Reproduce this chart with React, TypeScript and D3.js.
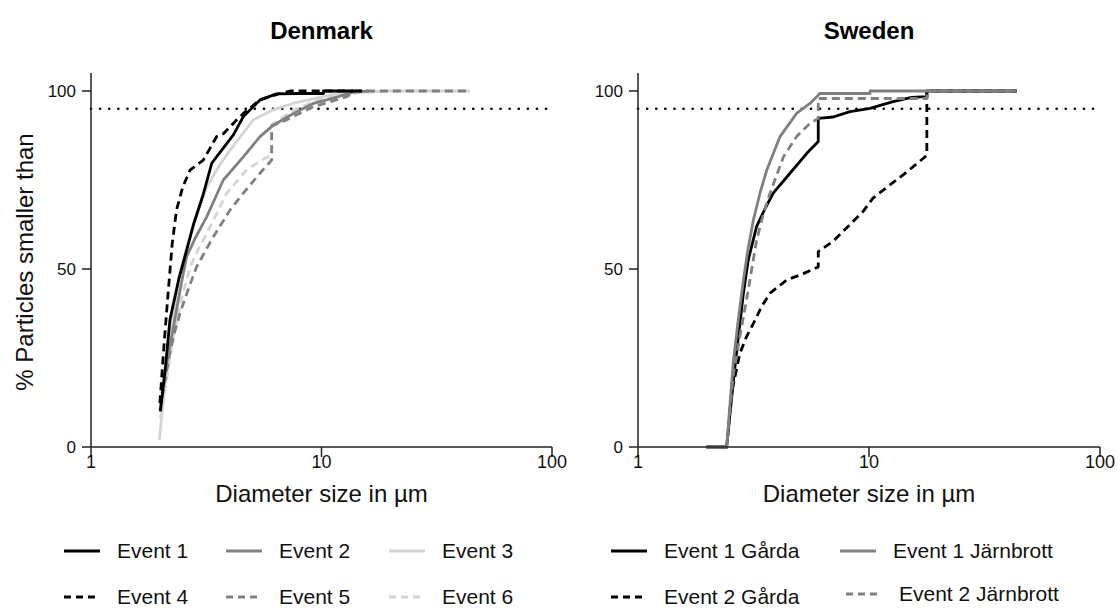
import React from "react";
import * as d3 from "d3";

// ---------- Data ----------
const yTicks = [0, 50, 100];
const xTicks = [1, 10, 100];
const threshold = 95;

// Denmark
const dkE1d = [2.0, 2.1, 2.2, 2.4, 2.6, 2.8, 3.07, 3.34, 3.69, 4.14, 4.58, 5.41, 6.39, 8.0, 10.2, 10.2, 15];
const dkE1p = [10, 22, 35.7, 47, 55.3, 63, 71, 79.7, 83.4, 87.6, 92.8, 97.5, 99.2, 99.3, 99.3, 100, 100];
const dkE2d = [2.03, 2.15, 2.28, 2.45, 2.6, 2.85, 3.18, 3.75, 4.58, 5.41, 6.18, 7.55, 9.22, 11.25, 13.7, 16];
const dkE2p = [15.1, 25, 33.8, 45, 53.5, 59, 64.7, 75, 81.5, 87.2, 90.4, 93.7, 96.5, 98, 99.7, 100];
const dkE3d = [1.98, 2.05, 2.13, 2.27, 2.43, 2.6, 2.78, 3.18, 3.6, 4.01, 5.06, 6.18, 7.5, 9.5, 12, 20, 44];
const dkE3p = [2, 12, 22.6, 37, 48.8, 56, 62.8, 73.1, 79, 83.4, 91.9, 94.7, 96.5, 98, 99.5, 100, 100];
const dkE4d = [1.99, 2.07, 2.16, 2.25, 2.35, 2.5, 2.69, 3.07, 3.51, 3.75, 4.29, 4.58, 5.41, 6.6, 7.3, 13.7];
const dkE4p = [12.3, 28, 43.2, 57, 66.6, 73, 77.8, 80.6, 87.2, 88, 91.9, 93.7, 97.5, 99.3, 100, 100];
const dkE5d = [1.99, 2.1, 2.2, 2.3, 2.43, 2.65, 2.87, 3.39, 4.01, 4.58, 5.41, 6.08, 6.08, 7.06, 9.22, 12.9, 14, 44];
const dkE5p = [10.4, 19, 26.4, 32, 37.5, 44.5, 50.6, 59, 66.6, 71.3, 76.9, 80.6, 90.2, 91.9, 95.6, 98.4, 100, 100];
const dkE6d = [2.0, 2.14, 2.28, 2.48, 2.69, 2.92, 3.18, 3.88, 4.73, 5.5, 6.08, 6.08, 7.55, 10.2, 15, 20];
const dkE6p = [8, 20, 31, 42, 50.6, 55.5, 60, 71.3, 77.8, 80.6, 82, 90.5, 94.6, 98.2, 99.6, 100];

// Sweden
const seG1d = [1.98, 2.42, 2.5, 2.59, 2.72, 2.86, 3.0, 3.26, 3.55, 3.85, 4.55, 5.38, 6.03, 6.03, 7.0, 8.27, 10.1, 12.7, 15.3, 17.8, 17.8, 43.6];
const seG1p = [0, 0, 9, 18.8, 31, 43.2, 52.5, 61.9, 67, 71.3, 76.9, 82.5, 85.8, 92.3, 92.7, 94.2, 95.1, 97, 98.2, 98.4, 100, 100];
const seG2d = [1.98, 2.42, 2.54, 2.76, 2.95, 3.16, 3.43, 3.73, 4.4, 5.2, 6.03, 6.03, 7.0, 8.55, 9.44, 10.4, 12.3, 14.1, 17.2, 17.8, 17.8, 43.6];
const seG2p = [0, 0, 15.1, 26.3, 31, 34.7, 39.5, 43.2, 46.9, 48.7, 50.6, 54.9, 57.8, 63.4, 66.2, 69.9, 73.6, 76.5, 81.1, 82, 100, 100];
const seJ1d = [1.98, 2.42, 2.5, 2.59, 2.72, 2.86, 3.0, 3.16, 3.38, 3.61, 4.12, 4.86, 5.55, 6.03, 6.1, 10.1, 10.1, 43.6];
const seJ1p = [0, 0, 12, 24.4, 36, 46.9, 56, 63.8, 71.5, 77.8, 87.2, 93.7, 96.5, 98.8, 99.3, 99.3, 100, 100];
const seJ2d = [1.98, 2.42, 2.5, 2.59, 2.76, 2.95, 3.26, 3.49, 3.73, 4.26, 4.86, 5.55, 6.03, 6.03, 17.8, 17.8, 43.6];
const seJ2p = [0, 0, 10, 20.6, 31, 41.3, 58, 65.5, 71.3, 81.5, 87.2, 90.9, 92.3, 97.9, 97.9, 100, 100];

const dkNames = ["Event 1", "Event 2", "Event 3", "Event 4", "Event 5", "Event 6"];
const seNames = ["Event 1 Gårda", "Event 1 Järnbrott", "Event 2 Gårda", "Event 2 Järnbrott"];

const BLACK = "#000000";
const GRAY = "#808080";
const LIGHT = "#d4d4d4";
const DASH = "8,5";
const FONT = "Arial, 'Liberation Sans', Helvetica, sans-serif";

type Series = { name: string; d: number[]; p: number[]; color: string; dashed: boolean };

const dkSeries: Series[] = [
  { name: dkNames[5], d: dkE6d, p: dkE6p, color: LIGHT, dashed: true },
  { name: dkNames[2], d: dkE3d, p: dkE3p, color: LIGHT, dashed: false },
  { name: dkNames[4], d: dkE5d, p: dkE5p, color: GRAY, dashed: true },
  { name: dkNames[1], d: dkE2d, p: dkE2p, color: GRAY, dashed: false },
  { name: dkNames[3], d: dkE4d, p: dkE4p, color: BLACK, dashed: true },
  { name: dkNames[0], d: dkE1d, p: dkE1p, color: BLACK, dashed: false },
];
const seSeries: Series[] = [
  { name: seNames[2], d: seG2d, p: seG2p, color: BLACK, dashed: true },
  { name: seNames[0], d: seG1d, p: seG1p, color: BLACK, dashed: false },
  { name: seNames[3], d: seJ2d, p: seJ2p, color: GRAY, dashed: true },
  { name: seNames[1], d: seJ1d, p: seJ1p, color: GRAY, dashed: false },
];

const yScale = d3.scaleLinear().domain([0, 100]).range([447, 91]);

function Panel({ x0, x1, title, series }: { x0: number; x1: number; title: string; series: Series[] }) {
  const x = d3.scaleLog().domain([1, 100]).range([x0, x1]);
  const line = d3
    .line<[number, number]>()
    .x((v) => x(v[0]))
    .y((v) => yScale(v[1]))
    .curve(d3.curveLinear);
  const axisColor = "#222";
  return (
    <g>
      <text x={x(10)} y={39} textAnchor="middle" fontFamily={FONT} fontWeight="bold" fontSize={24}>
        {title}
      </text>
      <line
        x1={x(1)}
        x2={x(100)}
        y1={yScale(threshold)}
        y2={yScale(threshold)}
        stroke="#000"
        strokeWidth={2.6}
        strokeDasharray="0.1,9"
        strokeLinecap="round"
      />
      {series.map((s) => (
        <path
          key={s.name}
          d={line(s.d.map((v, i) => [v, s.p[i]] as [number, number])) || ""}
          fill="none"
          stroke={s.color}
          strokeWidth={2.8}
          strokeDasharray={s.dashed ? DASH : undefined}
          strokeLinejoin="round"
        />
      ))}
      <line x1={x(1)} x2={x(1)} y1={73} y2={yScale(0)} stroke={axisColor} strokeWidth={1.5} />
      <line x1={x(1)} x2={x(100)} y1={yScale(0)} y2={yScale(0)} stroke={axisColor} strokeWidth={1.5} />
      {yTicks.map((t) => (
        <g key={"y" + t}>
          <line x1={x(1) - 9} x2={x(1)} y1={yScale(t)} y2={yScale(t)} stroke={axisColor} strokeWidth={1.5} />
          <text
            x={x(1) - 15}
            y={yScale(t)}
            dy="0.35em"
            textAnchor="end"
            fontFamily={FONT}
            fontSize={17}
            fill="#111"
          >
            {t}
          </text>
        </g>
      ))}
      {xTicks.map((t) => (
        <g key={"x" + t}>
          <line x1={x(t)} x2={x(t)} y1={yScale(0)} y2={yScale(0) + 10} stroke={axisColor} strokeWidth={1.5} />
          <text x={x(t)} y={468} textAnchor="middle" fontFamily={FONT} fontSize={18} fill="#111">
            {t}
          </text>
        </g>
      ))}
      <text x={x(10)} y={502} textAnchor="middle" fontFamily={FONT} fontSize={24} fill="#111">
        Diameter size in µm
      </text>
    </g>
  );
}

function LegendItem({ x, y, text, color, dashed }: { x: number; y: number; text: string; color: string; dashed: boolean }) {
  const len = 36;
  return (
    <g>
      <line
        x1={x}
        x2={x + len}
        y1={y}
        y2={y}
        stroke={color}
        strokeWidth={3}
        strokeDasharray={dashed ? "7,5" : undefined}
      />
      <text x={x + len + 17} y={y} dy="0.35em" fontFamily={FONT} fontSize={21} fill="#111">
        {text}
      </text>
    </g>
  );
}

export default function App() {
  const r1 = 551;
  const r2 = 597;
  return (
    <svg
      width={1118}
      height={608}
      style={{ position: "absolute", left: 0, top: 0, background: "#fff" }}
    >
      <rect width={1118} height={608} fill="#fff" />
      <Panel x0={91} x1={552} title="Denmark" series={dkSeries} />
      <Panel x0={638} x1={1100} title="Sweden" series={seSeries} />
      <text
        transform="translate(33,262) rotate(-90)"
        textAnchor="middle"
        fontFamily={FONT}
        fontSize={24}
        fill="#111"
      >
        % Particles smaller than
      </text>
      {/* Denmark legend */}
      <LegendItem x={64} y={r1} text={dkNames[0]} color={BLACK} dashed={false} />
      <LegendItem x={226} y={r1} text={dkNames[1]} color={GRAY} dashed={false} />
      <LegendItem x={389} y={r1} text={dkNames[2]} color={LIGHT} dashed={false} />
      <LegendItem x={64} y={r2} text={dkNames[3]} color={BLACK} dashed={true} />
      <LegendItem x={226} y={r2} text={dkNames[4]} color={GRAY} dashed={true} />
      <LegendItem x={389} y={r2} text={dkNames[5]} color={LIGHT} dashed={true} />
      {/* Sweden legend */}
      <LegendItem x={611} y={r1} text={seNames[0]} color={BLACK} dashed={false} />
      <LegendItem x={840} y={r1} text={seNames[1]} color={GRAY} dashed={false} />
      <LegendItem x={611} y={r2} text={seNames[2]} color={BLACK} dashed={true} />
      <LegendItem x={846} y={r2 - 3} text={seNames[3]} color={GRAY} dashed={true} />
    </svg>
  );
}
